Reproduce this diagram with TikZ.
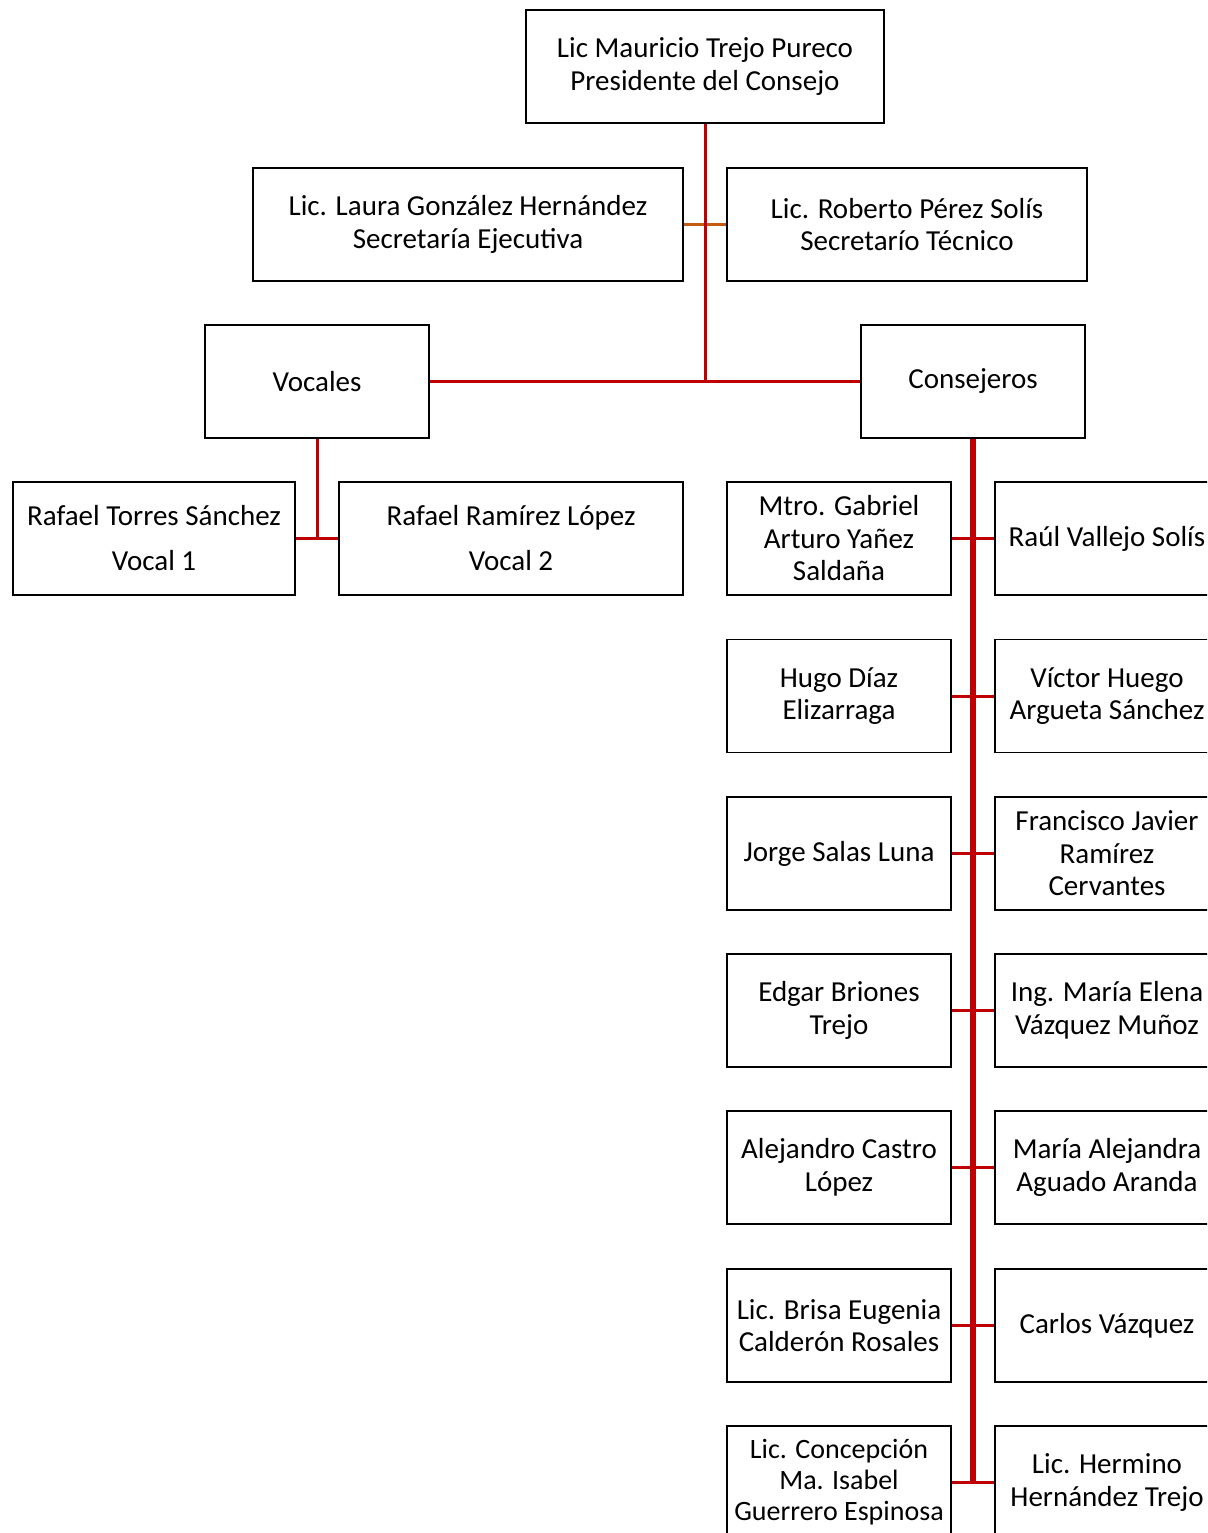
\documentclass[tikz,border=0pt]{standalone}
\usepackage{fontspec}
\setmainfont{Carlito}
\definecolor{lred}{HTML}{C00000}
\definecolor{lorange}{HTML}{C55A11}
\begin{document}
\begin{tikzpicture}[x=1pt,y=-1pt,
  orgbox/.style={draw=black, line width=1.8pt, fill=white, minimum height=113pt, align=center, inner sep=0pt, font=\fontsize{29}{32.5}\selectfont},
  wbox/.style={orgbox, minimum width=224pt},
  redline/.style={draw=lred, line width=3pt},
  thickred/.style={draw=lred, line width=6pt},
  orangeline/.style={draw=lorange, line width=3pt}]
\useasboundingbox (0,0) rectangle (1207,1533);
\clip (0,0) rectangle (1207,1533);
% connectors first
\draw[orangeline] (683,224.5) -- (727,224.5);
% nodes
\node[orgbox, minimum width=358pt] (pres) at (705,66.5) {Lic Mauricio Trejo Pureco\\Presidente del Consejo};
\node[orgbox, minimum width=430pt] (laura) at (468,224.5) {Lic. Laura González Hernández\\Secretaría Ejecutiva};
\node[orgbox, minimum width=360pt] (roberto) at (907,224.5) {Lic. Roberto Pérez Solís\\Secretarío Técnico};
\node[wbox] (vocales) at (317,381.5) {Vocales};
\node[wbox] (consej) at (973,381.5) {Consejeros};
\node[orgbox, minimum width=282pt, font=\fontsize{29}{45}\selectfont] (v1) at (154,538.5) {Rafael Torres Sánchez\\Vocal 1};
\node[orgbox, minimum width=344pt, font=\fontsize{29}{45}\selectfont] (v2) at (511,538.5) {Rafael Ramírez López\\Vocal 2};
\node[wbox] (l1) at (839,538.5) {Mtro. Gabriel\\Arturo Yañez\\Saldaña};
\node[wbox] (r1) at (1107,538.5) {Raúl Vallejo Solís};
\node[wbox] (l2) at (839,696) {Hugo Díaz\\Elizarraga};
\node[wbox] (r2) at (1107,696) {Víctor Huego\\Argueta Sánchez};
\node[wbox] (l3) at (839,853.5) {Jorge Salas Luna};
\node[wbox] (r3) at (1107,853.5) {Francisco Javier\\Ramírez\\Cervantes};
\node[wbox] (l4) at (839,1010.5) {Edgar Briones\\Trejo};
\node[wbox] (r4) at (1107,1010.5) {Ing. María Elena\\Vázquez Muñoz};
\node[wbox] (l5) at (839,1167.5) {Alejandro Castro\\López};
\node[wbox] (r5) at (1107,1167.5) {María Alejandra\\Aguado Aranda};
\node[wbox] (l6) at (839,1325.5) {Lic. Brisa Eugenia\\Calderón Rosales};
\node[wbox] (r6) at (1107,1325.5) {Carlos Vázquez};
\node[wbox, font=\fontsize{28}{31}\selectfont] (l7) at (839,1482.5) {Lic. Concepción\\Ma. Isabel\\Guerrero Espinosa};
\node[wbox] (r7) at (1107,1482.5) {Lic. Hermino\\Hernández Trejo};
% red connectors
\draw[redline] (pres.south) -- (pres.south |- vocales.east);
\draw[redline] (vocales.east) -- (consej.west);
\draw[redline] (vocales.south) -- (vocales.south |- v1.east);
\draw[redline] (v1.east) -- (v2.west);
\foreach \i in {1,...,7}{
  \draw[redline] (l\i.east) -- (r\i.west);
}
\draw[thickred] (consej.south) -- (consej.south |- l7.east);
\end{tikzpicture}
\end{document}
